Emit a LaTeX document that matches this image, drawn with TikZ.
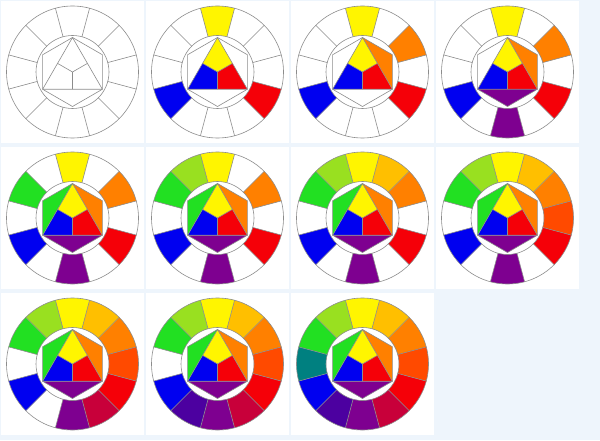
\documentclass[tikz,border=0pt]{standalone}
\usetikzlibrary{calc}
\definecolor{pagebg}{HTML}{EEF5FC}
\definecolor{wheelline}{HTML}{8C8C8C}
\definecolor{cY}{HTML}{FFF500}
\definecolor{cYO}{HTML}{FFBF00}
\definecolor{cO}{HTML}{FF8000}
\definecolor{cRO}{HTML}{FF4A00}
\definecolor{cR}{HTML}{F50008}
\definecolor{cRV}{HTML}{C8003A}
\definecolor{cV}{HTML}{7E0090}
\definecolor{cBV}{HTML}{4C00A0}
\definecolor{cB}{HTML}{0000F0}
\definecolor{cBG}{HTML}{008080}
\definecolor{cG}{HTML}{22E022}
\definecolor{cYG}{HTML}{99E020}
\tikzset{panel/.style={fill=white},
  wheel line/.style={draw=wheelline,line width=0.6pt,line join=round}}
\begin{document}
\begin{tikzpicture}[x=1pt,y=1pt]
  \fill[pagebg] (0,0) rectangle (600,440);
  \foreach \n in {1,...,11}{
    \pgfmathtruncatemacro\cc{mod(\n-1,4)}
    \pgfmathtruncatemacro\rr{(\n-1)/4}
    \coordinate (w\n) at (72.5+145*\cc,368-146*\rr);
    \fill[panel] ($(w\n)+(-71.5,-71)$) rectangle ($(w\n)+(71.5,71)$);
    \begin{scope}[shift={(w\n)}]
      % ring segments coloured at this stage
      \foreach \ang/\hue/\stage in {90/cY/2,-30/cR/2,210/cB/2,30/cO/3,270/cV/4,150/cG/5,
          120/cYG/6,60/cYO/7,0/cRO/8,-60/cRV/9,240/cBV/10,180/cBG/11}{
        \ifnum\n<\stage\else
          \fill[\hue] (\ang-15:36.5) -- (\ang-15:66) arc[start angle=\ang-15,end angle=\ang+15,radius=66]
            -- (\ang+15:36.5) arc[start angle=\ang+15,end angle=\ang-15,radius=36.5] -- cycle;
        \fi
      }
      % inner triangle and hexagon
      \ifnum\n>1
        \fill[cY] (90:34.5) -- (30:17.25) -- (0,0) -- (150:17.25) -- cycle;
        \fill[cR] (-30:34.5) -- (-90:17.25) -- (0,0) -- (30:17.25) -- cycle;
        \fill[cB] (210:34.5) -- (150:17.25) -- (0,0) -- (-90:17.25) -- cycle;
      \fi
      \ifnum\n>2 \fill[cO] (90:34.5) -- (30:34.5) -- (-30:34.5) -- cycle; \fi
      \ifnum\n>3 \fill[cV] (-30:34.5) -- (-90:34.5) -- (210:34.5) -- cycle; \fi
      \ifnum\n>4 \fill[cG] (210:34.5) -- (150:34.5) -- (90:34.5) -- cycle; \fi
      \draw[wheel line] (0,0) circle[radius=66] (0,0) circle[radius=36.5];
      \foreach \b in {15,45,...,345}
        \draw[wheel line] (\b:36.5) -- (\b:66);
      \draw[wheel line] (30:34.5) -- (90:34.5) -- (150:34.5) -- (210:34.5) -- (270:34.5) -- (330:34.5) -- cycle;
      \draw[wheel line] (90:34.5) -- (210:34.5) -- (330:34.5) -- cycle;
      \draw[wheel line] (0,0) -- (30:17.25) (0,0) -- (150:17.25) (0,0) -- (270:17.25);
    \end{scope}
  }
\end{tikzpicture}
\end{document}
